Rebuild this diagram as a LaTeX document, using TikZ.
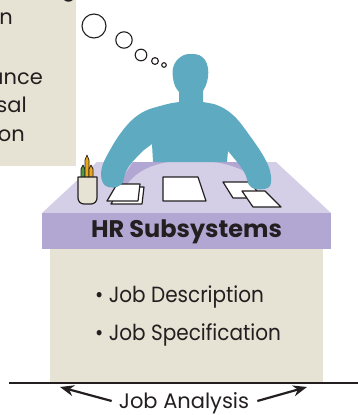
\documentclass[tikz,border=0pt]{standalone}
\usepackage{fontspec}
\setmainfont{Poppins}
\usetikzlibrary{arrows.meta}
\definecolor{panel}{HTML}{E6E3D4}
\definecolor{desktop}{HTML}{D4CEE6}
\definecolor{deskfront}{HTML}{B2A7D3}
\definecolor{figure}{HTML}{5EABC1}
\definecolor{inkc}{HTML}{231F20}
\definecolor{pencilY}{HTML}{E9A81E}
\definecolor{pencilG}{HTML}{4F9A3A}
\newcommand{\narrow}[1]{\scalebox{0.91}[1]{#1}}
\begin{document}
\begin{tikzpicture}[x=1pt,y=-1pt,
  outline/.style={draw=inkc, line width=1.2pt, line join=round},
  sheet/.style={outline, fill=white},
  bubble/.style={draw=inkc, line width=1.1pt, fill=white},
  pencil/.style={draw=inkc, line width=0.7pt, line join=round},
  label/.style={inner sep=0pt, text=inkc, font=\fontsize{21}{25}\selectfont},
  bigger/.style={inner sep=0pt, text=inkc, font=\fontsize{22}{26}\selectfont},
  heading/.style={inner sep=0pt, text=inkc, font=\fontsize{24}{28}\selectfont\bfseries},
  rule/.style={draw=inkc, line width=1.1pt},
  pointer/.style={draw=inkc, line width=2.2pt, -{Stealth[length=14pt,width=11pt]}}
]
\useasboundingbox (0,0) rectangle (358,415);
\clip (0,0) rectangle (358,415);

% side panel with the ends of its lines
\fill[panel] (0,0) rectangle (76,166);
\node[label, anchor=base east] (s0) at (76,-4) {g};
\node[label, anchor=base east] (s1) at (13,24) {n};
\node[label, anchor=base east] (s2) at (43,84) {ance};
\node[label, anchor=base east] (s3) at (27,112) {sal};
\node[label, anchor=base east] (s4) at (25,141) {on};

% thought bubbles
\draw[bubble] (94,26) circle (12);
\draw[bubble] (124,40) circle (8.2);
\draw[bubble] (141,55) circle (5.8);
\draw[bubble] (155,61) circle (3.4);
\draw[bubble] (164,65) circle (2.3);

% desk top
\fill[desktop] (97,162) -- (276,162) -- (331,213) -- (42,213) -- cycle;
\fill[deskfront] (120,182) -- (133,162) -- (168,162) .. controls (150,165) and (135,172) .. (125,187) -- cycle;
\fill[deskfront] (214,162) -- (252,162) -- (262,185) .. controls (250,172) and (235,165) .. (214,162) -- cycle;

% desk front and body
\fill[deskfront] (42,213) rectangle (331,249);
\fill[panel] (50,249) rectangle (323,382);
\node[heading, anchor=base] (title) at (186.5,237) {HR Subsystems};
\node[bigger, anchor=base west] (b1) at (95,302) {\narrow{• Job Description}};
\node[bigger, anchor=base west] (b2) at (95,340) {\narrow{• Job Specification}};

% pencils in a cup
\filldraw[pencil, fill=pencilG] (81,182) -- (81,169) -- (83,165) -- (85,169) -- (85,182) -- cycle;
\filldraw[pencil, fill=pencilY] (85,182) -- (85,160) -- (87,155) -- (89,160) -- (89,182) -- cycle;
\filldraw[pencil, fill=pencilY] (89,182) -- (89,169) -- (91,165) -- (93,169) -- (93,182) -- cycle;
\filldraw[outline, fill=panel] (78,177) [rounded corners=6pt] -- (78,204) -- (97,204) [sharp corners] -- (97,177) -- cycle;

% papers
\filldraw[sheet] (121,187) -- (144,187) -- (142,204) -- (111,204) -- cycle;
\filldraw[sheet] (117,184) -- (140,184) -- (138,201) -- (107,201) -- cycle;
\filldraw[sheet] (163,177) -- (198,177) -- (206,201) -- (163,201) -- cycle;
\filldraw[sheet] (223,182) -- (250,182) -- (262,198) -- (233,198) -- cycle;
\filldraw[sheet] (242,191) -- (265,191) -- (281,207) -- (253,207) -- cycle;

% seated figure
\fill[figure] (179,102)
  -- plot[smooth, tension=0.6] coordinates {(179,92) (175,86) (173,78) (173,68) (177,60) (184,55) (191,54) (199,55) (205,60) (208,68) (208,77) (206,85) (203,91)}
  -- (203,102)
  -- plot[smooth, tension=0.6] coordinates {(214,104) (225,109) (237,119) (250,136) (261,152) (268,165) (271,176) (270,186) (264,189) (255,189) (249,185) (246,176) (241,167) (233,157) (228,151)}
  -- (227,162) -- (153,162) -- (152,144)
  -- plot[smooth, tension=0.6] coordinates {(144,150) (136,158) (129,166) (125,174) (123,182) (117,187) (108,187) (103,183) (101,175) (103,164) (110,150) (120,134) (132,120) (145,111) (160,106) (172,103)}
  -- cycle;

% baseline with its label
\draw[rule] (9,383) -- (358,383);
\node[label, anchor=base] (ja) at (184,408) {Job Analysis};
\coordinate (lt) at (60,387);
\coordinate (rt) at (307,387);
\draw[pointer] ([xshift=-7pt,yshift=7pt]ja.base west) -- (lt);
\draw[pointer] ([xshift=8pt,yshift=7pt]ja.base east) -- (rt);
\end{tikzpicture}
\end{document}
